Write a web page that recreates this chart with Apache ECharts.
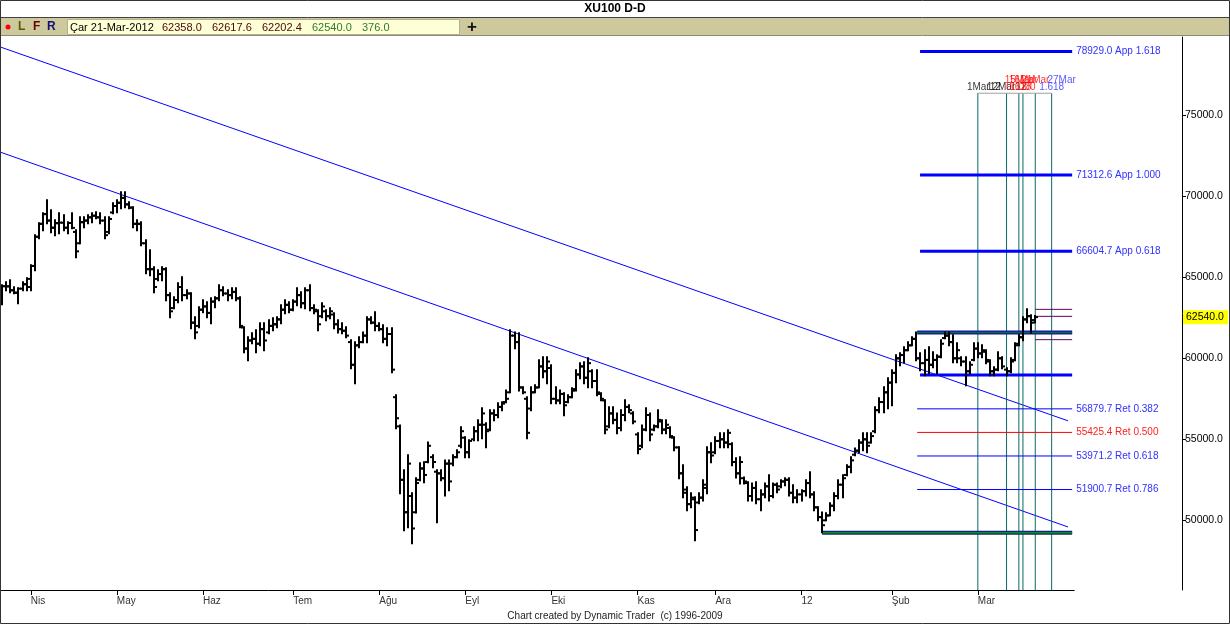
<!DOCTYPE html>
<html><head><meta charset="utf-8">
<script src="https://cdn.jsdelivr.net/npm/echarts@6/dist/echarts.min.js"></script>
<style>html,body{margin:0;padding:0;background:#fff;}#c{width:1230px;height:624px;}</style>
</head><body><div id="c"></div>
<script>
// ---- data (prices in thousands) ----
const monthLabels = ['Nis','May','Haz','Tem','Ağu','Eyl','Eki','Kas','Ara','12','Şub','Mar'];
const monthStartIdx = [7,28,49,71,92,113,134,155,174,195,217,238];
const yTickValues = [50,55,60,65,70,75];

const opens = [
63.6,64.45,64.44,64.2,64.05,64.3,64.57,64.4,65.7,67.5,
68.3,68.9,68.5,68.06,68.34,68.37,68.06,68.35,67.8,67.1,
68.4,68.5,68.7,68.8,68.7,68.5,67.8,69.0,69.4,69.6,
69.9,69.5,69.3,68.3,68.3,67.1,65.5,65.5,64.9,65.2,
65.5,63.9,63.1,63.6,64.4,63.9,64.0,62.2,62.0,63.0,
63.2,62.8,63.5,63.7,64.2,64.0,63.9,64.1,63.7,61.9,
60.6,61.1,61.2,60.9,61.8,61.6,62.0,62.1,62.4,63.0,
63.3,63.0,63.5,63.9,63.4,64.2,63.1,62.9,62.6,62.9,
62.6,62.7,62.1,61.8,61.7,61.0,59.6,60.8,61.0,61.4,
62.4,62.2,62.0,61.8,61.2,61.5,57.6,55.8,52.5,50.5,
51.5,50.5,52.5,53.2,53.6,53.9,53.0,52.9,52.6,53.5,
53.5,53.9,54.6,55.1,54.2,55.0,55.5,55.9,55.9,55.6,
56.6,56.5,57.0,57.3,57.9,61.4,61.0,58.2,57.5,56.9,
57.9,58.2,59.5,59.2,59.4,57.5,57.4,57.8,57.3,57.6,
58.1,59.0,59.5,58.8,59.2,58.6,57.8,57.4,55.8,56.6,
56.2,55.7,56.5,57.0,56.6,55.3,54.6,55.6,56.5,55.6,
55.8,56.1,55.6,55.7,55.1,54.5,52.9,51.9,51.0,51.3,
51.1,51.4,52.0,54.2,54.2,54.9,55.0,54.8,54.7,53.6,
52.9,52.6,52.3,51.5,52.0,51.3,51.6,52.1,51.5,52.2,
52.1,52.4,52.5,51.7,51.4,51.6,51.8,52.3,51.6,50.8,
50.2,50.0,50.3,50.9,51.5,52.2,52.8,53.3,54.05,54.3,
54.8,55.0,54.8,55.5,56.8,57.3,57.9,58.5,59.1,60.0,
60.2,60.5,60.8,61.2,60.0,59.7,59.9,59.6,59.9,60.1,
61.25,61.4,61.0,60.0,60.0,59.8,59.2,59.9,60.6,60.3,
60.4,59.8,59.2,59.3,60.0,59.3,59.2,59.9,60.9,61.3,
62.4,62.6,62.358];
const highs = [
64.51,64.69,64.81,64.38,64.32,64.69,64.94,65.74,67.59,68.33,
68.95,69.75,69.14,68.52,68.95,68.83,68.40,68.95,67.90,68.70,
68.70,68.83,68.95,69.01,68.95,68.70,68.70,69.57,69.75,70.25,
70.25,69.63,69.32,68.52,68.40,67.28,66.67,65.62,65.43,65.62,
65.56,64.01,63.77,64.63,65.00,64.20,64.01,62.53,63.15,63.58,
63.46,63.70,63.77,64.51,64.38,64.20,64.32,64.32,63.77,61.91,
61.30,61.54,61.73,62.16,62.16,62.35,62.47,62.53,63.27,63.58,
63.46,63.58,64.32,64.07,64.32,64.51,63.27,62.96,63.40,62.96,
63.09,62.78,62.35,62.16,61.91,61.11,60.99,61.30,61.60,62.53,
62.53,62.84,62.16,62.04,61.85,61.85,57.72,55.86,53.09,54.01,
51.67,52.59,53.52,53.58,54.81,54.01,53.09,53.09,53.70,53.70,
54.01,54.32,55.74,55.12,54.94,55.74,56.17,56.91,55.99,56.79,
56.79,57.22,57.28,58.02,61.73,61.60,61.54,58.21,57.59,58.21,
58.33,59.88,60.06,60.06,59.57,58.21,58.02,57.84,57.72,58.15,
59.26,59.69,59.75,60.00,59.26,59.26,57.84,57.41,56.98,56.98,
56.60,56.79,57.41,57.10,56.67,55.37,55.86,56.91,56.60,55.86,
56.79,56.17,56.17,55.74,55.12,54.51,53.40,52.04,51.67,51.42,
51.67,52.47,54.51,54.75,55.12,55.37,55.37,55.56,54.75,53.83,
53.89,52.65,52.35,52.28,52.35,51.85,52.28,52.78,52.28,52.28,
52.47,52.59,52.59,52.16,51.85,51.85,52.47,52.96,51.73,50.80,
50.49,50.43,51.05,51.67,52.47,52.78,53.40,53.89,54.44,54.94,
55.37,55.37,55.37,56.98,57.53,58.21,58.77,59.26,60.19,60.31,
60.68,60.99,61.30,61.60,60.31,60.49,60.68,60.37,60.19,61.11,
61.60,61.60,61.42,60.93,60.06,60.06,59.75,60.93,60.93,60.80,
60.49,59.88,59.44,60.37,60.06,59.38,60.00,60.93,61.42,62.53,
63.02,62.65,62.6176];
const lows = [
63.33,64.20,64.07,64.01,63.40,64.20,64.20,64.20,65.43,67.41,
67.90,68.33,67.78,67.59,67.72,67.90,67.72,68.02,66.23,67.10,
68.09,68.33,68.40,68.64,68.33,67.41,67.72,68.95,69.01,69.26,
69.32,69.26,68.09,67.90,66.98,65.25,65.12,64.07,64.81,64.81,
63.58,62.53,63.09,63.46,63.58,63.70,61.85,61.23,61.91,62.84,
62.53,62.16,63.15,63.58,63.89,63.58,63.70,63.58,61.91,60.37,
59.88,60.93,60.37,60.80,60.49,61.54,61.73,61.91,62.16,62.78,
62.84,62.96,63.27,63.15,63.09,62.96,62.78,61.73,62.53,62.35,
62.47,61.85,61.60,61.54,61.30,59.38,58.46,60.68,60.99,60.99,
62.16,61.73,61.73,60.99,60.80,59.14,55.68,51.67,49.38,49.57,
48.58,50.49,52.47,52.35,53.58,53.27,49.88,52.47,51.54,51.85,
53.40,53.89,54.51,53.89,53.89,54.94,54.94,55.06,54.51,55.56,
56.17,56.36,56.79,57.28,57.90,60.62,58.02,57.84,55.06,56.79,
57.90,58.21,58.83,58.46,57.22,57.22,57.22,56.48,57.28,57.59,
58.02,58.77,58.46,58.21,58.21,57.72,57.41,55.37,55.74,55.99,
55.37,55.56,56.17,56.67,55.99,54.14,54.51,55.56,54.94,55.56,
55.74,55.37,55.37,55.12,54.32,52.59,51.42,50.62,50.80,48.77,
51.05,51.23,51.67,53.58,54.14,54.51,54.51,54.51,53.40,52.65,
52.28,52.28,51.23,51.23,51.05,50.62,51.42,51.23,51.42,51.73,
52.04,52.16,51.54,51.11,51.11,51.23,51.54,51.42,50.62,50.00,
49.26,50.00,50.31,50.62,51.36,51.42,52.78,52.96,54.01,54.20,
54.32,54.20,54.81,55.43,56.67,56.67,56.91,57.10,58.52,59.57,
59.75,60.49,60.80,59.88,59.26,58.95,59.07,59.44,59.07,60.06,
61.23,60.80,59.75,59.75,59.57,58.33,59.07,59.88,60.06,60.06,
59.69,58.95,58.95,59.26,59.38,58.95,59.14,59.88,60.80,61.11,
62.22,61.60,62.2024];
const closes = [
64.45,64.44,64.2,64.05,64.3,64.57,64.9,65.7,67.5,68.3,
68.9,68.5,68.06,68.34,68.37,68.06,68.35,68.05,66.6,68.4,
68.5,68.7,68.8,68.7,68.5,67.6,68.6,69.4,69.6,69.9,
69.5,69.3,68.3,68.3,67.1,65.5,65.5,64.4,65.2,65.5,
63.9,62.9,63.6,64.4,63.9,64.0,62.2,61.6,63.0,63.2,
62.8,63.5,63.7,64.2,64.0,63.9,64.1,63.7,62.0,60.6,
61.1,61.2,60.9,61.8,61.1,62.0,62.1,62.4,63.0,63.3,
63.0,63.5,63.9,63.4,64.2,63.1,63.0,62.1,63.2,62.6,
62.9,62.1,61.8,61.7,61.4,59.6,60.8,61.0,61.4,62.4,
62.2,62.0,61.8,61.2,61.5,59.3,56.3,52.5,50.5,53.5,
49.5,52.3,53.2,52.8,54.6,53.6,52.9,52.6,53.5,52.4,
53.9,54.2,55.5,54.2,54.9,55.5,55.9,56.6,55.5,56.6,
56.5,57.0,57.2,57.5,61.4,61.0,58.2,57.9,55.4,57.9,
58.2,59.5,59.2,59.8,57.5,57.4,57.8,57.1,57.6,58.0,
59.0,59.5,58.8,59.7,58.6,57.9,57.5,55.6,56.6,56.2,
55.7,56.5,57.0,56.8,56.1,54.4,55.6,56.5,55.3,55.8,
56.2,55.6,55.9,55.2,54.5,52.9,51.7,51.0,51.4,49.4,
51.4,52.2,54.2,54.0,54.9,55.0,54.8,55.4,53.6,52.9,
53.6,52.4,51.5,52.0,51.3,51.6,52.1,51.5,52.2,51.9,
52.4,52.5,51.7,51.4,51.6,51.8,52.3,51.6,50.8,50.2,
49.7,50.3,50.9,51.5,52.2,52.6,53.3,53.7,54.3,54.8,
55.0,54.6,55.2,56.8,57.3,57.9,58.5,59.1,60.0,60.2,
60.5,60.8,61.2,60.0,59.7,59.9,59.6,59.9,60.1,60.9,
61.4,61.0,60.0,60.5,59.8,59.2,59.6,60.6,60.3,60.5,
59.9,59.2,59.3,60.0,59.5,59.2,59.8,60.8,61.3,62.4,
62.6,62.2,62.54];

const upperTrend = [[-0.5, 79.22], [260, 56.14]];
const lowerTrend = [[-0.5, 72.73], [260, 49.59]];
const fibLevels = [78929.0, 71312.6, 66604.7, 56879.7, 55425.4, 53971.2, 51900.7];
const fibNames = ['App 1.618','App 1.000','App 0.618','Ret 0.382','Ret 0.500','Ret 0.618','Ret 0.786'];
const rangeTop = 61.59, rangeBottom = 58.97, swingLow = 49.24;
const projLevels = [63.02, 62.59, 61.15];
const timeLineIdx = [238, 245, 248, 249, 252, 256];
const timeTop = 76.36;
const timeRow1 = ['', '', '15Mar', '16Mar', '21Mar', '27Mar'];
const timeRow2 = ['1Mar12', '12Mar12', '0.618', '1.000', '', '1.618'];
const quote = ['Çar 21-Mar-2012', '62358.0', '62617.6', '62202.4', '62540.0', '376.0'];

// ---- chart ----
const chart = echarts.init(document.getElementById('c'));
const W = 1074.2, X_MIN = -0.5, X_MAX = 261.5, Y_MIN = 45.70, Y_MAX = 79.83;
const ohlc = opens.map((o, i) => [i, o, highs[i], lows[i], closes[i]]);

function renderOHLC(params, api) {
  const x = api.value(0);
  const o = api.coord([x, api.value(1)]);
  const h = api.coord([x, api.value(2)]);
  const l = api.coord([x, api.value(3)]);
  const c = api.coord([x, api.value(4)]);
  const px = Math.round(h[0]);
  const st = { stroke: '#000', lineWidth: 2 };
  return { type: 'group', children: [
    { type: 'line', shape: { x1: px, y1: h[1] - 1, x2: px, y2: l[1] + 1 }, style: st },
    { type: 'line', shape: { x1: px - 3, y1: o[1], x2: px, y2: o[1] }, style: st },
    { type: 'line', shape: { x1: px, y1: c[1], x2: px + 3, y2: c[1] }, style: st }
  ]};
}

function seg(data, color, width, z) {
  return { type: 'line', data, symbol: 'none', silent: true, animation: false,
           lineStyle: { color, width }, itemStyle: { color }, z: z || 3 };
}

const series = [];
series.push(seg(upperTrend, '#0000ff', 1, 2));
series.push(seg(lowerTrend, '#0000ff', 1, 2));
// time lines
timeLineIdx.forEach(t => series.push(seg([[t, timeTop], [t, Y_MIN]], '#0a6a62', 1, 2)));
series.push(seg([[timeLineIdx[0], timeTop], [timeLineIdx[timeLineIdx.length - 1], timeTop]], '#a0a0a0', 1, 2));
// fib levels
fibLevels.forEach((v, k) => {
  const app = k < 3, red = k === 4;
  const s = seg([[app ? 223.9 : 223.2, v / 1000], [261, v / 1000]], red ? '#ff0000' : '#0000ff', app ? 3 : 1, 4);
  s.endLabel = { show: true, formatter: v.toFixed(1) + ' ' + fibNames[k], color: red ? '#ff2020' : '#3030ff',
                 fontSize: 10, distance: 4, fontFamily: 'Liberation Sans' };
  series.push(s);
});
// range box and swing low
series.push(seg([[223.2, rangeTop], [261, rangeTop]], '#1010c0', 4, 4));
series.push(seg([[223.2, rangeTop], [261, rangeTop]], '#107010', 1.5, 5));
series.push(seg([[223.9, rangeBottom], [261, rangeBottom]], '#0000ff', 3, 4));
series.push(seg([[200, swingLow], [261, swingLow]], '#0a2a80', 4, 4));
series.push(seg([[200, swingLow], [261, swingLow]], '#158a15', 1.5, 5));
projLevels.forEach(v => series.push(seg([[252, v], [261, v]], '#660066', 1, 4)));
// time labels
const labelItems = [];
const lblColor = ['#000', '#000', '#ff0000', '#ff0000', '#ff0000', '#3030ff'];
timeLineIdx.forEach((t, k) => {
  if (timeRow1[k]) labelItems.push({ value: [t, timeTop], label: { formatter: timeRow1[k], color: k === 5 ? '#3030ff' : '#ff0000', offset: [k === 5 ? 10 : 0, -13] } });
  if (timeRow2[k]) labelItems.push({ value: [t, timeTop], label: { formatter: timeRow2[k], color: lblColor[k], offset: [k === 0 ? 6 : 0, -6] } });
});
series.push({ type: 'scatter', data: labelItems, symbolSize: 0, silent: true, z: 6,
  label: { show: true, position: 'inside', fontSize: 10, fontFamily: 'Liberation Sans', align: 'center', verticalAlign: 'middle' } });
// price bars
series.push({ type: 'custom', renderItem: renderOHLC, data: ohlc, encode: { x: 0, y: [1, 2, 3, 4] }, z: 10, silent: true });

const option = {
  animation: false,
  backgroundColor: '#ffffff',
  textStyle: { fontFamily: 'Liberation Sans' },
  grid: { left: 0, top: 37, width: W, height: 553, containLabel: false },
  xAxis: {
    type: 'value', min: X_MIN, max: X_MAX,
    axisLine: { show: true, onZero: false, lineStyle: { color: '#000', width: 1 } },
    axisTick: { show: true, customValues: monthStartIdx, length: 5, lineStyle: { color: '#000' } },
    axisLabel: { show: true, customValues: monthStartIdx, formatter: v => monthLabels[monthStartIdx.indexOf(v)] || '',
                 align: 'left', fontSize: 10, color: '#333', margin: 6 },
    splitLine: { show: false }
  },
  yAxis: {
    type: 'value', position: 'right', offset: 1182 - W, min: Y_MIN, max: Y_MAX,
    axisLine: { show: true, onZero: false, lineStyle: { color: '#000', width: 1 } },
    axisTick: { show: true, customValues: yTickValues, length: 4, lineStyle: { color: '#000' } },
    axisLabel: { show: true, customValues: yTickValues, formatter: v => (v * 1000).toFixed(1),
                 fontSize: 10.5, color: '#000', margin: 3 },
    splitLine: { show: false }
  },
  series
};
chart.setOption(option);

// header, footer, frame and current price tag
const lastY = chart.convertToPixel({ yAxisIndex: 0 }, closes[closes.length - 1]);
const qx = [70, 162, 212, 262, 312, 362];
const qc = ['#000', '#4a0a0a', '#4a0a0a', '#4a0a0a', '#2f7a2f', '#2f7a2f'];
const graphics = [
  { type: 'rect', shape: { x: 0, y: 0, width: 1230, height: 18 }, style: { fill: '#fff' }, z: 20 },
  { type: 'text', x: 615, y: 9, style: { text: 'XU100 D-D', font: 'bold 12px "Liberation Sans"', fill: '#000', align: 'center', verticalAlign: 'middle' }, z: 21 },
  { type: 'rect', shape: { x: 0, y: 18, width: 1230, height: 17 }, style: { fill: '#cdc99d' }, z: 20 },
  { type: 'line', shape: { x1: 0, y1: 17.5, x2: 1230, y2: 17.5 }, style: { stroke: '#404040', lineWidth: 1 }, z: 21 },
  { type: 'line', shape: { x1: 0, y1: 35.5, x2: 1230, y2: 35.5 }, style: { stroke: '#8a8a7a', lineWidth: 1 }, z: 21 },
  { type: 'circle', shape: { cx: 8, cy: 27, r: 2.5 }, style: { fill: '#ff0000' }, z: 21 },
  { type: 'text', x: 18, y: 27, style: { text: 'L', font: 'bold 12px "Liberation Sans"', fill: '#5a5a00', verticalAlign: 'middle' }, z: 21 },
  { type: 'text', x: 33, y: 27, style: { text: 'F', font: 'bold 12px "Liberation Sans"', fill: '#6a0000', verticalAlign: 'middle' }, z: 21 },
  { type: 'text', x: 47, y: 27, style: { text: 'R', font: 'bold 12px "Liberation Sans"', fill: '#10107a', verticalAlign: 'middle' }, z: 21 },
  { type: 'rect', shape: { x: 67.5, y: 19.5, width: 392, height: 15 }, style: { fill: '#ffffd6', stroke: '#b0b090', lineWidth: 1 }, z: 21 },
  { type: 'text', x: 472, y: 27, style: { text: '+', font: 'bold 17px "Liberation Sans"', fill: '#111', align: 'center', verticalAlign: 'middle' }, z: 21 },
  { type: 'text', x: 615, y: 616, style: { text: 'Chart created by Dynamic Trader  (c) 1996-2009', font: '10px "Liberation Sans"', fill: '#222', align: 'center', verticalAlign: 'middle' }, z: 21 },
  { type: 'rect', shape: { x: 1183, y: lastY - 7, width: 45, height: 14 }, style: { fill: '#ffff00' }, z: 21 },
  { type: 'text', x: 1186, y: lastY, style: { text: (closes[closes.length - 1] * 1000).toFixed(1), font: '10.5px "Liberation Sans"', fill: '#000', verticalAlign: 'middle' }, z: 22 },
  { type: 'rect', shape: { x: 0.5, y: 0.5, width: 1229, height: 623 }, style: { fill: 'none', stroke: '#333', lineWidth: 1 }, z: 30 }
];
quote.forEach((t, k) => graphics.push({ type: 'text', x: qx[k], y: 27.5,
  style: { text: t, font: '11px "Liberation Sans"', fill: qc[k], verticalAlign: 'middle' }, z: 22 }));
chart.setOption({ graphic: graphics });
</script>
</body></html>
